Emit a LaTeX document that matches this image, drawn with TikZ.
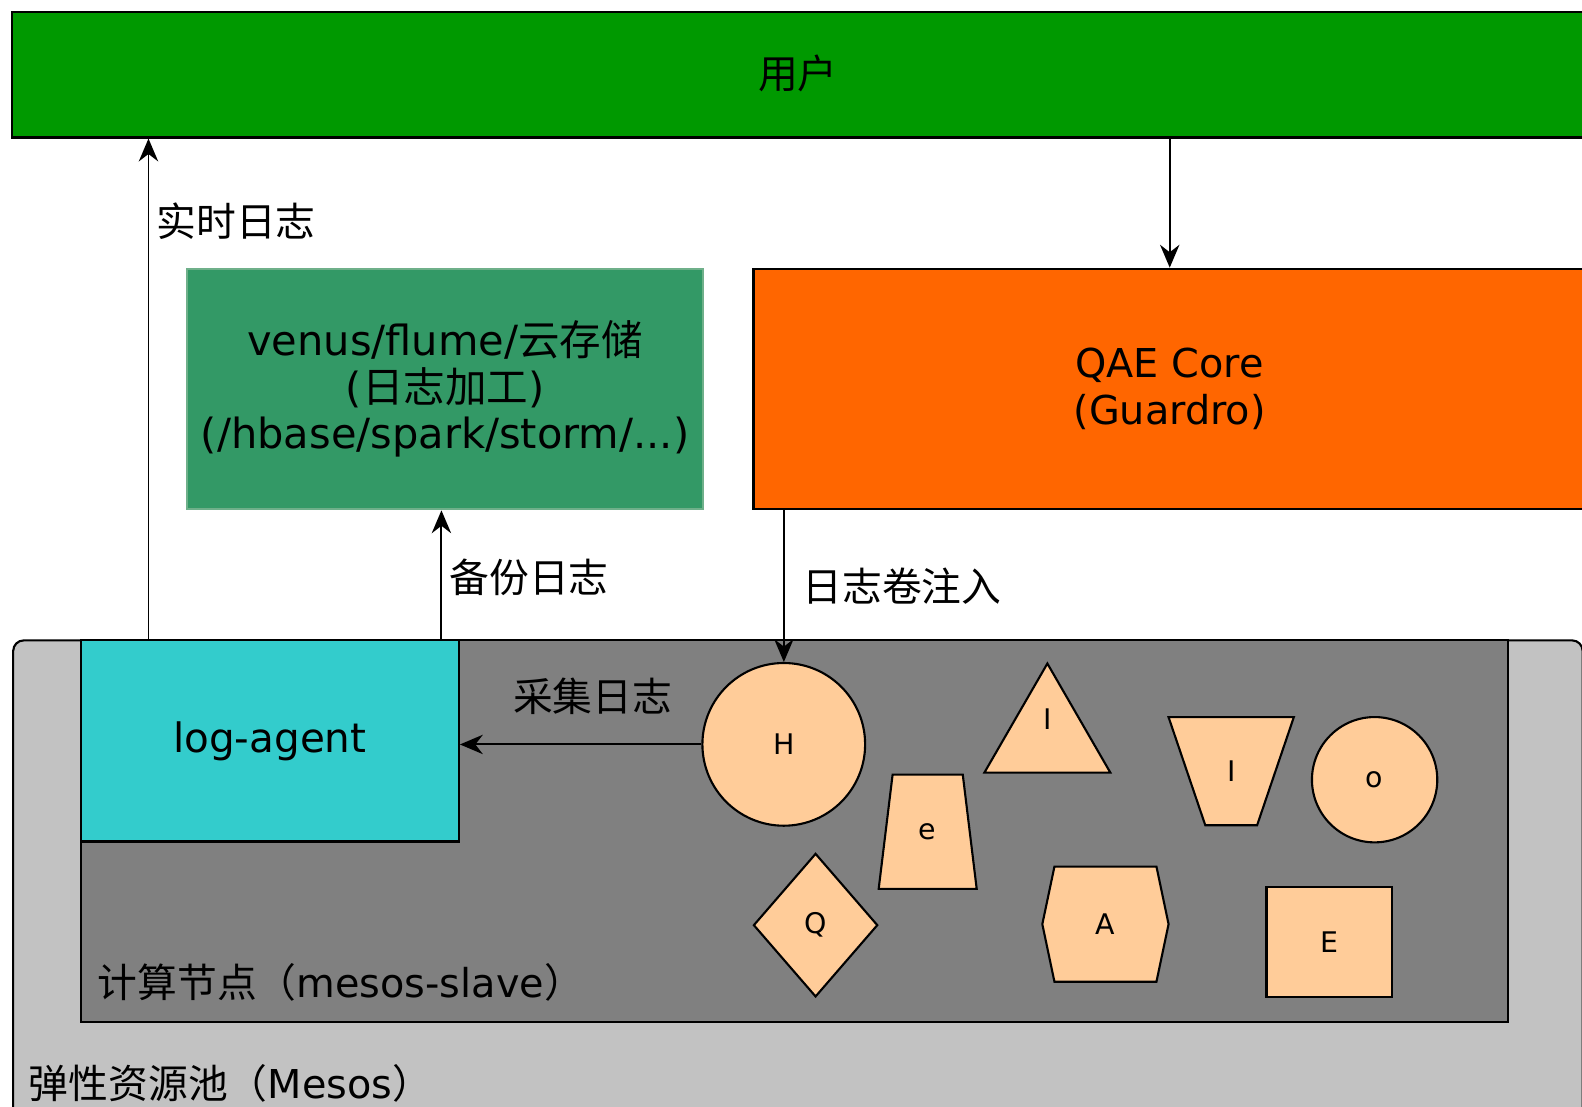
\documentclass[tikz,border=0pt]{standalone}
\usepackage{fontspec}
\setmainfont{DejaVu Sans}
\newfontfamily\cjk{Noto Sans CJK SC}
\usepackage{tikz}
\usetikzlibrary{arrows.meta}
\usetikzlibrary{shapes.geometric}
\definecolor{usergreen}{HTML}{009900}
\definecolor{venusgreen}{HTML}{339966}
\definecolor{venusedge}{HTML}{6FB08A}
\definecolor{qaeorange}{HTML}{FF6600}
\definecolor{poolgray}{HTML}{C2C2C2}
\definecolor{slavegray}{HTML}{808080}
\definecolor{agentcyan}{HTML}{33CCCC}
\definecolor{piecefill}{HTML}{FFCC99}
\def\px{0.01cm}
\def\thickness{0.6pt}
\tikzset{box/.style={draw, line width=\thickness, inner sep=0pt, anchor=north west, font=\fontsize{11.4}{13}\selectfont}}
\tikzset{piece/.style={draw, line width=\thickness, fill=piecefill, inner sep=0pt, font=\fontsize{8}{10}\selectfont}}
\tikzset{piecetxt/.style={inner sep=0pt, font=\fontsize{8}{10}\selectfont}}
\tikzset{arr/.style={-{Stealth[length=6.5pt,width=5.5pt]}, line width=0.55pt}}
\tikzset{lbl/.style={inner sep=2pt, font=\fontsize{11.2}{13}\selectfont\cjk}}
\tikzset{trap/.style={piece, trapezium, trapezium stretches=true}}

\begin{document}
\begin{tikzpicture}[x=\px, y=-\px]
\useasboundingbox (0,0) rectangle (1582,1107);
\clip (0,0) rectangle (1582,1107);
\begin{scope}[scale=1.01, transform shape]

\node[box, fill=poolgray, rounded corners=3pt, minimum width=15.53cm, minimum height=5.4cm] (pool) at (12,633) {};
\node[box, fill=slavegray, minimum width=14.12cm, minimum height=3.78cm] (slave) at (79,633) {};
\node[box, fill=agentcyan, minimum width=3.74cm, minimum height=1.99cm] (agent) at (79,633) {log-agent};
\node[lbl, inner sep=0pt, anchor=west] (slavelbl) at (96,973) {计算节点（{\rmfamily mesos-slave}）};
\node[lbl, inner sep=0pt, anchor=west] (poollbl) at (28,1073) {弹性资源池（{\rmfamily Mesos}）};

\node[box, fill=usergreen, minimum width=16cm, minimum height=1.24cm] (user) at (11,11) {};
\node[lbl] (usertxt) at (790,73) {用户};
\node[box, fill=venusgreen, draw=venusedge, minimum width=5.11cm, minimum height=2.38cm, align=center, font=\fontsize{11.7}{13}\selectfont] (venus) at (184,265)
  {venus/flume/{\cjk 云存储}\\({\cjk 日志加工})\\(/hbase/spark/storm/...)};
\node[box, fill=qaeorange, minimum width=9cm, minimum height=2.38cm] (qae) at (745,265) {};
\node[align=center, font=\fontsize{11.2}{13}\selectfont] (qaetxt) at (1158,385) {QAE Core\\(Guardro)};

\node[piece, circle, minimum size=1.61cm] (h) at (776,737) {H};
\node[piece, regular polygon, regular polygon sides=3, minimum size=1.44cm] (tri) at (1037,729) {};
\node[piecetxt] (tritxt) at (1037,712) {I};
\node[trap, shape border rotate=180, trapezium left angle=74, trapezium right angle=74, minimum width=1.24cm, minimum height=1.07cm] (trapi) at (1219,763.5) {I};
\node[piece, circle, minimum size=1.24cm] (o) at (1361,772) {o};
\node[trap, trapezium left angle=78, trapezium right angle=78, minimum width=0.97cm, minimum height=1.13cm] (trape) at (918.5,823.5) {e};
\node[piece, diamond, minimum width=1.23cm, minimum height=1.42cm] (q) at (807.5,916) {Q};
\draw[piece] (1044,858) -- (1145,858) -- (1157,915) -- (1145,972) -- (1044,972) -- (1032,915) -- cycle;
\node[piecetxt] (a) at (1094.5,915) {A};
\node[piece, minimum width=1.24cm, minimum height=1.09cm] (sq) at (1316,932.5) {E};

\coordinate (rtx) at (147,0);
\coordinate (bkx) at (437,0);
\draw[arr] (rtx |- agent.north) to node[lbl, right, pos=0.835] (rtlbl) {实时日志} (rtx |- user.south);
\draw[arr] (bkx |- agent.north) to node[lbl, right, pos=0.48] (bklbl) {备份日志} (bkx |- venus.south);
\draw[arr] (qaetxt |- user.south) to (qaetxt |- qae.north);
\draw[arr] (h.north |- qae.south) to node[lbl, right=3pt, pos=0.5] (jlbl) {日志卷注入} (h.north);
\draw[arr] (h.west) to node[lbl, above=6pt, pos=0.45] (cjlbl) {采集日志} (h.west -| agent.east);
\end{scope}
\end{tikzpicture}
\end{document}
